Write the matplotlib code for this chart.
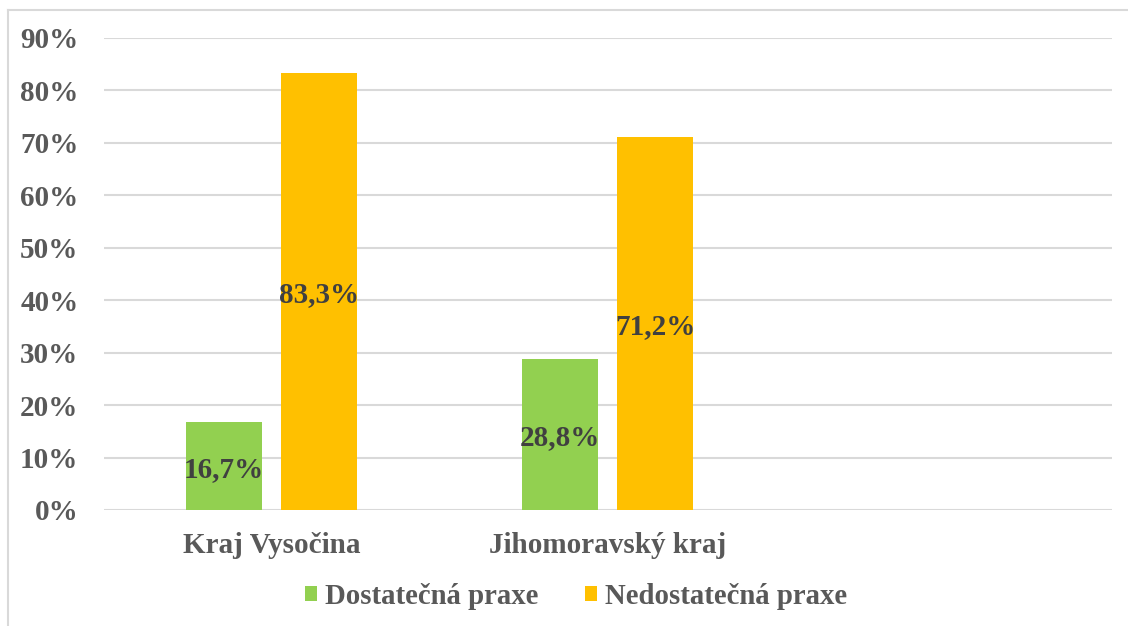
import matplotlib
matplotlib.use("Agg")
import matplotlib.pyplot as plt
from matplotlib.lines import Line2D
import numpy as np

categories = ["Kraj Vysočina", "Jihomoravský kraj", ""]
series_names = ["Dostatečná praxe", "Nedostatečná praxe"]
dostatecna = [0.167, 0.288]
nedostatecna = [0.833, 0.712]
label_dost = ["16,7%", "28,8%"]
label_nedost = ["83,3%", "71,2%"]
yticks = [0, 0.1, 0.2, 0.3, 0.4, 0.5, 0.6, 0.7, 0.8, 0.9]
ytick_labels = ["0%", "10%", "20%", "30%", "40%", "50%", "60%", "70%", "80%", "90%"]

colors = ["#92D050", "#FFC000"]
font = "Liberation Serif"
fs = 21

fig = plt.figure(figsize=(11.28, 6.26), dpi=100)
ax = fig.add_axes([103.5 / 1128, 1 - 510 / 626, 1008 / 1128, 472 / 626])

x = np.arange(len(dostatecna))
w = 0.226
off = 0.142
b1 = ax.bar(x - off, dostatecna, w, color=colors[0], label=series_names[0], zorder=3)
b2 = ax.bar(x + off, nedostatecna, w, color=colors[1], label=series_names[1], zorder=3)

for bars, labs in ((b1, label_dost), (b2, label_nedost)):
    for r, lab in zip(bars, labs):
        ax.text(r.get_x() + r.get_width() / 2, r.get_height() / 2, lab,
                ha="center", va="center_baseline", fontsize=fs, fontweight="bold",
                family=font, color="#404040", zorder=4)

ax.set_xlim(-0.5, 2.5)
ax.set_ylim(0, 0.9)
ax.set_yticks(yticks)
ax.set_yticklabels(ytick_labels, fontsize=fs, fontweight="bold", family=font, color="#595959")
ax.set_xticks(np.arange(len(categories)))
ax.set_xticklabels(categories, fontsize=fs, fontweight="bold", family=font, color="#595959")
ax.tick_params(axis="y", length=0, pad=18)
ax.tick_params(axis="x", length=0, pad=16)
ax.yaxis.grid(True, color="#D9D9D9", linewidth=1.5, zorder=0)
for s in ax.spines.values():
    s.set_visible(False)

leg = fig.legend(handles=[b1, b2], loc="center", bbox_to_anchor=(576 / 1128, 1 - 596 / 626),
                 ncol=2, frameon=False, handlelength=0.42, handleheight=0.42,
                 handletextpad=0.25, columnspacing=1.65,
                 prop={"family": font, "weight": "bold", "size": 20.7})
for t in leg.get_texts():
    t.set_color("#595959")

# chart area border (left and top visible)
fig.add_artist(Line2D([8 / 1128, 8 / 1128], [0, 1 - 10 / 626], transform=fig.transFigure,
                      color="#D9D9D9", linewidth=1.5))
fig.add_artist(Line2D([8 / 1128, 1], [1 - 10 / 626, 1 - 10 / 626], transform=fig.transFigure,
                      color="#D9D9D9", linewidth=1.5))

fig.savefig("out.png", dpi=100)
